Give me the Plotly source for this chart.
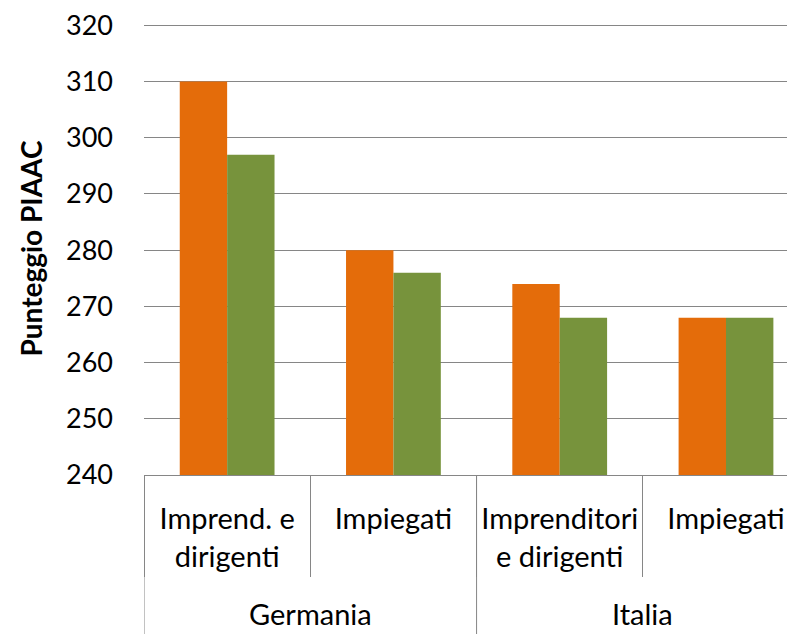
import plotly.graph_objects as go

countries = ["Germania", "Germania", "Italia", "Italia"]
roles = ["Imprend. e<br>dirigenti", "Impiegati", "Imprenditori<br>e dirigenti", "Impiegati"]
serie_1 = [310, 280, 274, 268]
serie_2 = [297, 276, 268, 268]

font_name = "Lato"
line_grey = "#868686"

# category positions on the x axis (one slot per role)
pos = list(range(len(roles)))
bounds = [p - 0.5 for p in pos] + [pos[-1] + 0.5]

fig = go.Figure()
fig.add_trace(go.Bar(x=pos, y=serie_1, name="Serie 1",
                     marker=dict(color="#E46C0A", line=dict(width=0))))
fig.add_trace(go.Bar(x=pos, y=serie_2, name="Serie 2",
                     marker=dict(color="#77933C", line=dict(width=0))))

# outer level: country labels + long dividers
plot_h = 457
groups = []
for c in countries:
    if c not in groups:
        groups.append(c)
for g in groups:
    idx = [i for i, c in enumerate(countries) if c == g]
    fig.add_annotation(x=sum(idx) / len(idx), y=-140 / plot_h, xref="x", yref="paper",
                       text=g, showarrow=False, yanchor="middle",
                       font=dict(family=font_name, size=29, color="black"))
    fig.add_shape(type="line", xref="x", yref="paper",
                  x0=idx[0] - 0.5, x1=idx[0] - 0.5, y0=0, y1=-165 / plot_h,
                  line=dict(color=line_grey, width=1))

fig.update_layout(
    width=787,
    height=626,
    barmode="group",
    bargap=0.43,
    bargroupgap=0,
    showlegend=False,
    paper_bgcolor="white",
    plot_bgcolor="white",
    margin=dict(l=136, r=0, t=10, b=159),
    font=dict(family=font_name, size=27, color="black"),
)

fig.update_xaxes(
    range=[-0.5, 3.415],
    tickmode="array",
    tickvals=pos,
    ticktext=roles,
    ticks="",
    ticklabelstandoff=18,
    showgrid=False,
    zeroline=False,
    showline=True,
    linecolor=line_grey,
    linewidth=1,
    minor=dict(tickmode="array", tickvals=bounds, ticks="outside", ticklen=101,
               tickcolor=line_grey, tickwidth=1, showgrid=False),
    tickfont=dict(family=font_name, size=29, color="black"),
)

fig.update_yaxes(
    range=[240, 320.6],
    dtick=10,
    showgrid=True,
    gridcolor=line_grey,
    gridwidth=1,
    zeroline=False,
    showline=False,
    ticks="",
    ticklabelstandoff=30,
    ticklabeloverflow="allow",
    tickfont=dict(family=font_name, size=27, color="black"),
    title=dict(text="<b>Punteggio PIAAC</b>",
               font=dict(family=font_name, size=28, color="black"),
               standoff=15),
)

fig.write_html("out.html")
